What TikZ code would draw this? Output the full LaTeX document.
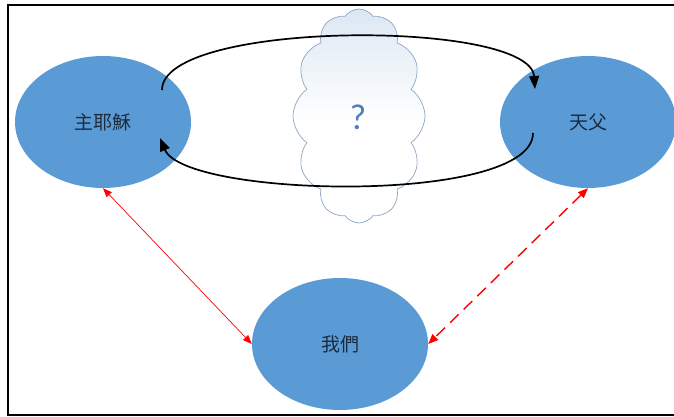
\documentclass[tikz,border=0pt]{standalone}
\usepackage{fontspec}
\newfontfamily\cjk{Noto Sans CJK TC}
\newfontfamily\qfont{Carlito}
\usetikzlibrary{shapes.geometric,shapes.symbols,arrows.meta,calc}
\definecolor{nodeblue}{HTML}{5B9BD5}
\definecolor{txtdark}{HTML}{1C2B3E}
\definecolor{cloudline}{HTML}{8AA6C4}
\definecolor{cloudtop}{HTML}{DCE7F4}
\definecolor{qblue}{HTML}{4F7FBA}
\tikzset{
  person/.style={ellipse, fill=nodeblue, minimum width=176pt, minimum height=132pt, inner sep=0pt,
    font=\cjk\fontsize{19}{22}\selectfont, text=txtdark},
  loop/.style={line width=1.7pt, black, -{Triangle[length=13pt,width=10pt]}},
  relsolid/.style={red, line width=0.7pt, {Triangle[length=9pt,width=7pt]}-{Triangle[length=9pt,width=7pt]}},
  reldash/.style={red, line width=1.4pt, dash pattern=on 12pt off 7pt, {Triangle[length=10pt,width=8pt]}-{Triangle[length=10pt,width=8pt]}},
}
\begin{document}
\begin{tikzpicture}[x=1pt,y=-1pt]
\useasboundingbox (0,0) rectangle (674,417);
\draw[line width=2pt] (680,5) -- (8,5) -- (8,415) -- (680,415);
\node[cloud, cloud puffs=12, cloud puff arc=110, cloud ignores aspect, minimum width=132pt, minimum height=214pt,
  draw=cloudline, line width=0.7pt, top color=cloudtop, bottom color=white, middle color=white!96!cloudtop, inner sep=0pt] (C) at (359,116) {};
\node[font=\qfont\fontsize{36}{40}\selectfont, text=qblue] (Q) at (358,117) {?};
\node[person] (J) at (103,122) {主耶穌};
\node[person] (F) at (588,122) {天父};
\node[person] (W) at (340,344) {我們};
\coordinate (J1) at ($(J.center)+(59,-32)$);
\coordinate (F1) at ($(F.center)+(-53,-33)$);
\coordinate (F2) at ($(F.center)+(-55,11)$);
\coordinate (J2) at ($(J.center)+(57,16)$);
\draw[loop] (J1) .. controls ($(J1)+(0,-70)$) and ($(F1)+(-5,-70)$) .. (F1);
\draw[loop] (F2) .. controls ($(F2)+(0,72)$) and ($(J2)+(25,60)$) .. (J2);
\draw[relsolid] (J.south) -- (W.west);
\draw[reldash] (F.south) -- (W.east);
\end{tikzpicture}
\end{document}
